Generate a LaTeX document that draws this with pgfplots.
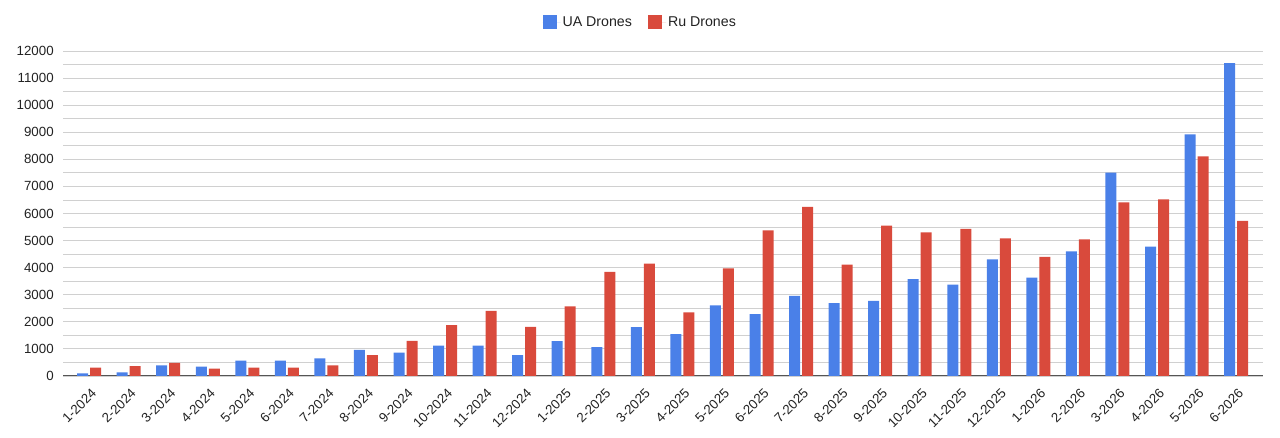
\documentclass[border=0pt]{standalone}
\usepackage{pgfplots}
\usepackage{pgfplotstable}
\pgfplotsset{compat=1.18}
\usepackage{fontspec}
\setmainfont{Liberation Sans}
\definecolor{uablue}{HTML}{4A80E8}
\definecolor{rured}{HTML}{D94A3C}
\definecolor{gridgray}{HTML}{D0D0D0}
\definecolor{axisgray}{HTML}{555555}
\definecolor{txt}{HTML}{222222}
\pgfplotstableread{
x ua ru
0 100 310
1 135 360
2 395 480
3 345 270
4 565 310
5 565 310
6 650 395
7 960 775
8 860 1295
9 1120 1880
10 1120 2400
11 775 1810
12 1290 2570
13 1070 3840
14 1800 4150
15 1550 2350
16 2610 3975
17 2280 5380
18 2955 6240
19 2695 4110
20 2770 5550
21 3580 5305
22 3370 5430
23 4310 5085
24 3630 4395
25 4605 5045
26 7510 6410
27 4775 6525
28 8925 8110
29 11550 5725
}\drones
\begin{document}
\begin{tikzpicture}
\path[use as bounding box] (0,0) rectangle (1280pt,438pt);
\begin{axis}[
  at={(63pt,62pt)}, anchor=south west,
  scale only axis, width=1200pt, height=325pt,
  ybar=2pt, bar width=11pt,
  xmin=-0.66, xmax=29.68, ymin=0, ymax=12000,
  xtick=data,
  xticklabels={1-2024,2-2024,3-2024,4-2024,5-2024,6-2024,7-2024,8-2024,9-2024,10-2024,11-2024,12-2024,1-2025,2-2025,3-2025,4-2025,5-2025,6-2025,7-2025,8-2025,9-2025,10-2025,11-2025,12-2025,1-2026,2-2026,3-2026,4-2026,5-2026,6-2026},
  ytick={0,1000,...,12000}, minor y tick num=1,
  scaled y ticks=false,
  /pgf/number format/set thousands separator={},
  /pgf/number format/assume math mode=true,
  ymajorgrids, yminorgrids,
  major grid style={draw=gridgray, line width=0.9pt},
  minor grid style={draw=gridgray, line width=0.9pt},
  axis x line=bottom, axis y line=left,
  x axis line style={-, draw=axisgray, line width=1pt},
  y axis line style={draw=none},
  tick style={draw=none},
  font=\fontsize{13.3}{15}\selectfont,
  tick label style={text=txt},
  yticklabel style={inner sep=0pt, xshift=-7pt},
  xticklabel style={xshift=1.5pt, yshift=-9.5pt, rotate=45, anchor=north east, inner sep=0pt},
  legend columns=2,
  legend style={at={(0.481,1.089)}, anchor=center, draw=none, fill=none,
    font=\fontsize{14.2}{16}\selectfont, text=txt,
    /tikz/every even column/.append style={column sep=14pt}},
  legend image code/.code={\fill[#1] (0pt,-7pt) rectangle (14pt,7pt); \path (0pt,0pt) -- (18pt,0pt);},
]
\addplot[fill=uablue, draw=none] table[x=x, y=ua] {\drones};
\addlegendentry{UA Drones}
\addplot[fill=rured, draw=none] table[x=x, y=ru] {\drones};
\addlegendentry{Ru Drones}
\end{axis}
\end{tikzpicture}
\end{document}
